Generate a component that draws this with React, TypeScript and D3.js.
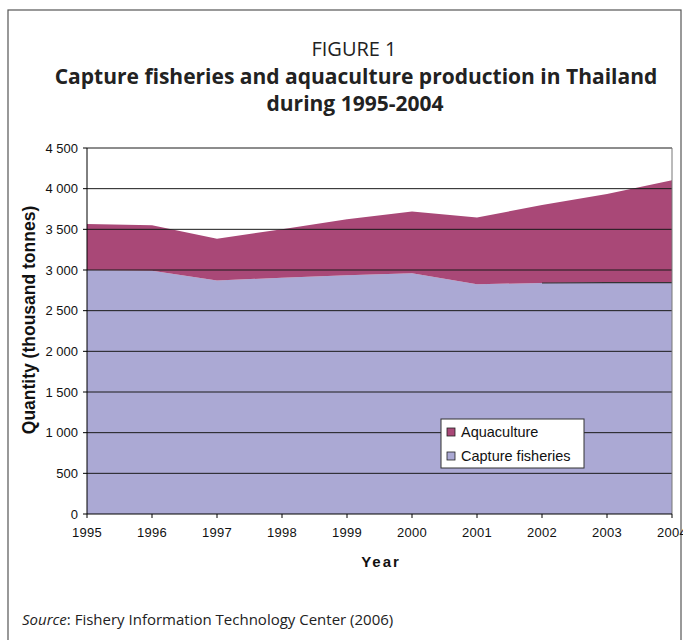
import React from "react";
import * as d3 from "d3";

const years = [1995, 1996, 1997, 1998, 1999, 2000, 2001, 2002, 2003, 2004];
const captureFisheries = [3000, 2990, 2870, 2905, 2935, 2960, 2825, 2840, 2845, 2845];
const aquaculture = [565, 560, 515, 595, 690, 760, 820, 960, 1090, 1260];
const yTicks = [0, 500, 1000, 1500, 2000, 2500, 3000, 3500, 4000, 4500];
const seriesNames = ["Aquaculture", "Capture fisheries"];
const colors = { capture: "#ABA9D4", aqua: "#A94877" };

const W = 683;
const H = 640;
const plot = { left: 87, right: 672, top: 148, bottom: 514 };

const fmt = (v: number) => {
  const s = String(v);
  return s.length > 3 ? s.slice(0, s.length - 3) + " " + s.slice(s.length - 3) : s;
};

export default function App() {
  const x = d3.scaleLinear().domain([1995, 2004]).range([plot.left, plot.right]);
  const y = d3.scaleLinear().domain([0, 4500]).range([plot.bottom, plot.top]);

  const rows = years.map((yr, i) => ({ yr, cap: captureFisheries[i], aq: aquaculture[i] }));
  const capArea = d3
    .area<any>()
    .x((d) => x(d.yr))
    .y0(() => y(0))
    .y1((d) => y(d.cap));
  const aqArea = d3
    .area<any>()
    .x((d) => x(d.yr))
    .y0((d) => y(d.cap))
    .y1((d) => y(d.cap + d.aq));
  const capLine = d3
    .line<any>()
    .x((d) => x(d.yr))
    .y((d) => y(d.cap));

  const sans = "'Liberation Sans', Arial, sans-serif";
  const titleFont = "'Open Sans', 'Noto Sans', sans-serif";

  return (
    <div style={{ position: "absolute", left: 0, top: 0 }}>
      <svg width={W} height={H} style={{ display: "block", background: "#fff" }}>
        <rect x={8} y={10} width={673} height={640} fill="none" stroke="#555" strokeWidth={1.2} />
        <text x={354} y={56} textAnchor="middle" fontFamily={titleFont} fontSize={20} fill="#222">
          FIGURE 1
        </text>
        <text x={356} y={84} textAnchor="middle" fontFamily={titleFont} fontSize={21} fontWeight="bold" fill="#222">
          Capture fisheries and aquaculture production in Thailand
        </text>
        <text x={355} y={111} textAnchor="middle" fontFamily={titleFont} fontSize={21} fontWeight="bold" fill="#222">
          during 1995-2004
        </text>

        <path d={capArea(rows) || ""} fill={colors.capture} />
        <path d={aqArea(rows) || ""} fill={colors.aqua} />

        {yTicks.map((t) => (
          <g key={t}>
            {t > 0 && (
              <line x1={plot.left} x2={plot.right} y1={y(t)} y2={y(t)} stroke="#1a1a1a" strokeWidth={1} />
            )}
            <line x1={plot.left - 4} x2={plot.left} y1={y(t)} y2={y(t)} stroke="#000" />
            <text x={plot.left - 9} y={y(t) + 4.5} textAnchor="end" fontFamily={sans} fontSize={13} fill="#111">
              {fmt(t)}
            </text>
          </g>
        ))}
        <path d={capLine(rows.slice(7)) || ""} fill="none" stroke="#333" strokeWidth={1.2} />
        <line x1={plot.right} x2={plot.right} y1={plot.top} y2={plot.bottom} stroke="#777" />
        <line x1={plot.left} x2={plot.left} y1={plot.top} y2={plot.bottom} stroke="#000" />
        <line x1={plot.left} x2={plot.right} y1={plot.bottom} y2={plot.bottom} stroke="#000" />
        {years.map((yr) => (
          <g key={yr}>
            <line x1={x(yr)} x2={x(yr)} y1={plot.bottom} y2={plot.bottom + 4} stroke="#000" />
            <text x={x(yr)} y={537} textAnchor="middle" fontFamily={sans} fontSize={13} letterSpacing={0.3} fill="#111">
              {yr}
            </text>
          </g>
        ))}

        <text x={381} y={567} textAnchor="middle" fontFamily={sans} fontSize={15} fontWeight="bold" letterSpacing={2} fill="#111">
          Year
        </text>
        <text
          transform={`translate(35, 320) rotate(-90)`}
          textAnchor="middle"
          fontFamily={sans}
          fontSize={17.5}
          fontWeight="bold"
          fill="#111"
        >
          Quantity (thousand tonnes)
        </text>

        <g>
          <rect x={441} y={419} width={143} height={49} fill="#fff" stroke="#333" />
          {seriesNames.map((n, i) => (
            <g key={n}>
              <rect
                x={447}
                y={428 + i * 24}
                width={8}
                height={8}
                fill={i === 0 ? colors.aqua : colors.capture}
                stroke="#222"
                strokeWidth={0.8}
              />
              <text x={461} y={437 + i * 24} fontFamily={sans} fontSize={14.5} fill="#111">
                {n}
              </text>
            </g>
          ))}
        </g>

        <text x={22} y={625} fontFamily={titleFont} fontSize={15} fill="#222">
          <tspan fontStyle="italic">Source</tspan>: Fishery Information Technology Center (2006)
        </text>
      </svg>
    </div>
  );
}
